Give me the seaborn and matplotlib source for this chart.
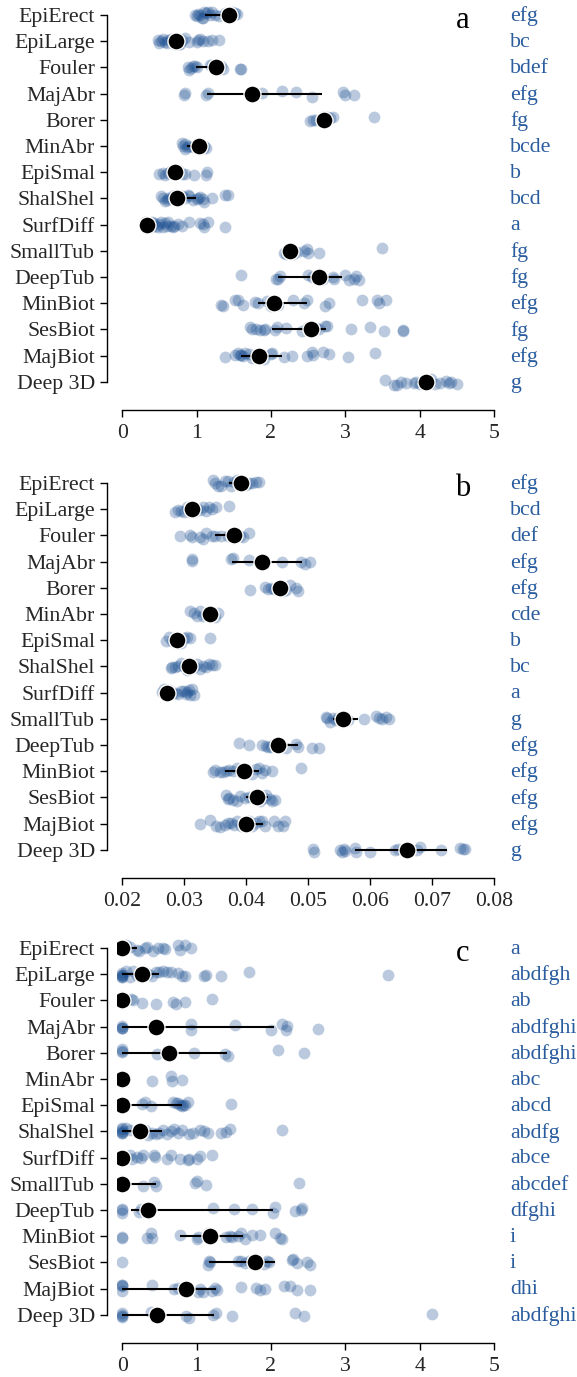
import numpy as np
import pandas as pd
import matplotlib
matplotlib.use("Agg")
import matplotlib.pyplot as plt
import matplotlib.transforms as mtransforms
import seaborn as sns

cats = ['EpiErect', 'EpiLarge', 'Fouler', 'MajAbr', 'Borer', 'MinAbr', 'EpiSmal',
        'ShalShel', 'SurfDiff', 'SmallTub', 'DeepTub', 'MinBiot', 'SesBiot',
        'MajBiot', 'Deep 3D']

# ---- panel a ----
a_pts = [
    [0.98, 1.0, 1.02, 1.05, 1.07, 1.08, 1.1, 1.12, 1.15, 1.18, 1.2, 1.25, 1.3, 1.38, 1.42, 1.45, 1.47, 1.5, 1.52, 1.54],
    [0.48, 0.5, 0.52, 0.55, 0.58, 0.6, 0.62, 0.65, 0.68, 0.7, 0.72, 0.74, 0.76, 0.78, 0.8, 0.85, 0.9, 1.0, 1.02, 1.05, 1.08, 1.15, 1.2, 1.3],
    [0.88, 0.9, 0.93, 0.95, 0.98, 1.0, 1.18, 1.2, 1.25, 1.28, 1.3, 1.33, 1.35, 1.58, 1.6],
    [0.83, 0.84, 1.13, 1.15, 1.7, 1.75, 1.88, 2.15, 2.33, 2.55, 2.97, 3.0, 3.12],
    [2.53, 2.56, 2.6, 2.7, 2.75, 2.8, 2.84, 3.38],
    [0.8, 0.82, 0.84, 0.85, 0.87, 0.9, 0.95, 1.0, 1.02, 1.05, 1.08, 1.1, 1.12],
    [0.5, 0.55, 0.58, 0.62, 0.65, 0.68, 0.72, 0.75, 0.8, 0.85, 0.97, 1.12, 1.14],
    [0.52, 0.55, 0.58, 0.6, 0.62, 0.65, 0.68, 0.7, 0.72, 0.75, 0.78, 0.8, 0.85, 0.88, 0.9, 0.95, 1.0, 1.02, 1.05, 1.08, 1.1, 1.2, 1.38, 1.42],
    [0.3, 0.32, 0.35, 0.38, 0.4, 0.42, 0.45, 0.48, 0.5, 0.52, 0.55, 0.58, 0.6, 0.62, 0.65, 0.68, 0.7, 0.75, 0.8, 0.9, 1.05, 1.08, 1.1, 1.15, 1.38],
    [2.18, 2.2, 2.22, 2.24, 2.26, 2.28, 2.3, 2.35, 2.45, 2.48, 2.5, 2.64, 3.5],
    [1.6, 2.07, 2.1, 2.12, 2.5, 2.55, 2.6, 2.65, 2.7, 2.83, 2.85, 3.0, 3.05, 3.12, 3.15, 3.18],
    [1.33, 1.36, 1.52, 1.55, 1.62, 1.78, 1.82, 1.95, 2.0, 2.05, 2.1, 2.3, 2.45, 2.48, 2.72, 2.78, 3.22, 3.42, 3.45, 3.55],
    [1.72, 1.75, 1.8, 1.85, 1.9, 1.92, 2.05, 2.08, 2.2, 2.42, 2.5, 2.55, 2.6, 2.65, 2.72, 2.75, 3.07, 3.33, 3.52, 3.77, 3.78],
    [1.38, 1.52, 1.55, 1.58, 1.6, 1.62, 1.65, 1.7, 1.75, 1.8, 1.85, 1.9, 2.0, 2.02, 2.18, 2.28, 2.48, 2.55, 2.57, 2.7, 2.78, 3.03, 3.4],
    [3.53, 3.65, 3.7, 3.75, 3.82, 3.92, 3.95, 4.0, 4.08, 4.12, 4.15, 4.2, 4.28, 4.36, 4.4, 4.42, 4.5],
]
a_med = [1.43, 0.72, 1.26, 1.75, 2.71, 1.03, 0.71, 0.73, 0.33, 2.26, 2.64, 2.04, 2.54, 1.84, 4.08]
a_lo = [1.11, 0.66, 0.99, 1.14, 2.66, 0.87, 0.68, 0.70, 0.33, 2.22, 2.10, 1.83, 2.02, 1.60, 3.97]
a_hi = [1.47, 0.80, 1.30, 2.68, 2.76, 1.06, 0.74, 0.99, 0.40, 2.30, 2.95, 2.48, 2.74, 2.15, 4.12]
a_let = ['efg', 'bc', 'bdef', 'efg', 'fg', 'bcde', 'b', 'bcd', 'a', 'fg', 'fg', 'efg', 'fg', 'efg', 'g']

# ---- panel b ----
b_pts = [
    [0.0347, 0.035, 0.0355, 0.036, 0.0365, 0.037, 0.0375, 0.038, 0.0385, 0.039, 0.0395, 0.04, 0.0405, 0.041, 0.0415, 0.042],
    [0.0285, 0.029, 0.0295, 0.03, 0.0305, 0.031, 0.0315, 0.032, 0.0325, 0.033, 0.0335, 0.034, 0.0345, 0.0352, 0.0372],
    [0.0293, 0.031, 0.0312, 0.0325, 0.033, 0.0335, 0.0345, 0.035, 0.036, 0.037, 0.0375, 0.038, 0.0385, 0.039, 0.0395, 0.0405],
    [0.0312, 0.0313, 0.0375, 0.0378, 0.0405, 0.0425, 0.0457, 0.0488, 0.0495, 0.0503],
    [0.0406, 0.043, 0.0435, 0.044, 0.0445, 0.0452, 0.046, 0.0465, 0.047, 0.048, 0.0483],
    [0.031, 0.0315, 0.032, 0.0325, 0.033, 0.0335, 0.034, 0.0345, 0.035, 0.0355],
    [0.027, 0.0275, 0.028, 0.0285, 0.029, 0.0295, 0.03, 0.0305, 0.031, 0.0341],
    [0.0278, 0.028, 0.0285, 0.029, 0.0295, 0.03, 0.0305, 0.031, 0.0315, 0.032, 0.0325, 0.033, 0.0335, 0.034, 0.0345, 0.035],
    [0.0264, 0.0268, 0.027, 0.0275, 0.028, 0.0285, 0.029, 0.0295, 0.03, 0.0302, 0.0305, 0.0308, 0.031, 0.0312, 0.0315],
    [0.0528, 0.053, 0.0535, 0.054, 0.0545, 0.0548, 0.0556, 0.0565, 0.059, 0.061, 0.0615, 0.062, 0.0625, 0.063],
    [0.0389, 0.0405, 0.0425, 0.0432, 0.0435, 0.044, 0.0445, 0.0455, 0.0465, 0.048, 0.0483, 0.0507, 0.0518],
    [0.0346, 0.035, 0.0358, 0.0362, 0.0368, 0.0372, 0.0378, 0.0385, 0.039, 0.0395, 0.04, 0.041, 0.0415, 0.042, 0.0425, 0.043, 0.0441, 0.0488],
    [0.0368, 0.037, 0.0373, 0.0378, 0.0385, 0.039, 0.0398, 0.0405, 0.041, 0.0418, 0.0422, 0.0428, 0.0432, 0.0438, 0.0442, 0.0447],
    [0.0326, 0.0341, 0.0352, 0.0358, 0.0365, 0.037, 0.0375, 0.038, 0.0385, 0.0392, 0.04, 0.0405, 0.041, 0.0415, 0.042, 0.0425, 0.043, 0.0445, 0.0452, 0.046, 0.0463],
    [0.0508, 0.051, 0.0552, 0.0555, 0.0558, 0.056, 0.0575, 0.0578, 0.06, 0.064, 0.0645, 0.066, 0.0675, 0.068, 0.0715, 0.0745, 0.075, 0.0753],
]
b_med = [0.0391, 0.0313, 0.0380, 0.0425, 0.0454, 0.0341, 0.0289, 0.0307, 0.0272, 0.0556, 0.0451, 0.0397, 0.0418, 0.0400, 0.0659]
b_lo = [0.0373, 0.0305, 0.0349, 0.0377, 0.0446, 0.0333, 0.0285, 0.0305, 0.0270, 0.0540, 0.0439, 0.0365, 0.0400, 0.0395, 0.0575]
b_hi = [0.0395, 0.0320, 0.0385, 0.0490, 0.0458, 0.0345, 0.0292, 0.0315, 0.0276, 0.0581, 0.0483, 0.0421, 0.0435, 0.0427, 0.0724]
b_let = ['efg', 'bcd', 'def', 'efg', 'efg', 'cde', 'b', 'bc', 'a', 'g', 'efg', 'efg', 'efg', 'efg', 'g']

# ---- panel c ----
c_pts = [
    [0, 0, 0, 0.02, 0.05, 0.1, 0.2, 0.22, 0.3, 0.33, 0.41, 0.48, 0.55, 0.57, 0.75, 0.78, 0.85, 0.92],
    [0, 0, 0, 0, 0, 0, 0.05, 0.1, 0.15, 0.2, 0.25, 0.3, 0.35, 0.4, 0.45, 0.5, 0.55, 0.6, 0.65, 0.75, 0.8, 0.85, 1.1, 1.12, 1.33, 1.7, 3.58],
    [0, 0, 0, 0, 0.05, 0.12, 0.15, 0.27, 0.46, 0.68, 0.72, 0.85, 1.2],
    [0, 0, 0, 0, 0.46, 0.92, 0.93, 1.52, 2.0, 2.15, 2.2, 2.22, 2.63],
    [0, 0, 0, 0.47, 0.63, 0.96, 1.38, 1.42, 2.1, 2.45],
    [0, 0, 0, 0, 0, 0, 0, 0, 0.4, 0.65, 0.67, 0.8],
    [0, 0, 0, 0, 0.27, 0.3, 0.38, 0.68, 0.72, 0.75, 0.78, 0.8, 0.82, 0.85, 0.88, 1.46],
    [0, 0, 0, 0, 0, 0, 0.05, 0.1, 0.2, 0.25, 0.3, 0.35, 0.4, 0.45, 0.5, 0.55, 0.6, 0.65, 0.7, 0.75, 0.8, 0.9, 0.95, 1.05, 1.1, 1.15, 1.33, 1.4, 1.45, 2.15],
    [0, 0, 0, 0, 0.05, 0.1, 0.13, 0.2, 0.25, 0.28, 0.42, 0.44, 0.6, 0.65, 0.78, 0.88, 0.9, 1.0, 1.05, 1.2],
    [0, 0, 0, 0.28, 0.42, 0.45, 0.98, 1.0, 1.13, 2.38],
    [0, 0, 0, 0.22, 0.25, 0.34, 1.22, 1.5, 1.75, 2.03, 2.05, 2.32, 2.4, 2.42],
    [0, 0, 0.33, 0.38, 0.4, 0.78, 1.0, 1.02, 1.15, 1.18, 1.4, 1.45, 1.48, 1.55, 1.6, 1.65, 1.75, 1.85, 2.05, 2.12, 2.15],
    [0, 1.15, 1.16, 1.18, 1.55, 1.6, 1.65, 1.7, 1.79, 1.9, 1.95, 1.98, 2.28, 2.3, 2.35, 2.48, 2.52],
    [0, 0, 0, 0, 0.4, 0.7, 0.75, 0.86, 1.02, 1.05, 1.08, 1.2, 1.25, 1.27, 1.6, 1.8, 1.85, 1.92, 2.18, 2.25, 2.35, 2.53],
    [0, 0, 0, 0, 0.38, 0.47, 0.86, 0.9, 1.22, 1.26, 1.48, 2.32, 2.45, 4.17],
]
c_med = [0.0, 0.26, 0.0, 0.46, 0.63, 0.0, 0.0, 0.24, 0.0, 0.0, 0.34, 1.18, 1.79, 0.86, 0.47]
c_lo = [0.0, 0.0, 0.0, 0.0, 0.0, 0.0, 0.0, 0.0, 0.0, 0.0, 0.12, 0.77, 1.16, 0.0, 0.0]
c_hi = [0.2, 0.5, 0.1, 2.04, 1.41, 0.0, 0.8, 0.54, 0.05, 0.45, 2.03, 1.63, 2.05, 1.26, 1.24]
c_let = ['a', 'abdfgh', 'ab', 'abdfghi', 'abdfghi', 'abc', 'abcd', 'abdfg', 'abce',
         'abcdef', 'dfghi', 'i', 'i', 'dhi', 'abdfghi']

ticks_ac = [0, 1, 2, 3, 4, 5]
ticks_b = [0.02, 0.03, 0.04, 0.05, 0.06, 0.07, 0.08]

sns.set_style('ticks')
plt.rcParams['font.family'] = ['Liberation Serif', 'DejaVu Serif']
plt.rcParams['font.size'] = 15.7

blue = '#1b4f91'
txt_blue = '#2a5d9f'

W, H = 577, 1377
fig = plt.figure(figsize=(W / 100, H / 100), dpi=100)

panels = [
    ('a', a_pts, a_med, a_lo, a_hi, a_let, ticks_ac, (-0.078, 5.0), 15),
    ('b', b_pts, b_med, b_lo, b_hi, b_let, ticks_b, (0.01906, 0.08), 483),
    ('c', c_pts, c_med, c_lo, c_hi, c_let, ticks_ac, (-0.078, 5.0), 948),
]

row = 26.2
np.random.seed(3)
for name, pts, med, lo, hi, let, ticks, xlim, top_row in panels:
    left_px, right_px = 116.5, 494
    top_px = top_row - 0.5 * row
    bot_px = top_row + 14.6 * row
    ax = fig.add_axes([left_px / W, 1 - bot_px / H,
                       (right_px - left_px) / W, (bot_px - top_px) / H])

    df = pd.DataFrame({
        'cat': [c for c, p in zip(cats, pts) for _ in p],
        'val': [v for p in pts for v in p],
    })
    sns.stripplot(data=df, x='val', y='cat', order=cats, orient='h',
                  color=blue, alpha=0.3, size=8.5, jitter=0.13,
                  linewidth=0, ax=ax, zorder=2)

    ypos = np.arange(len(cats))
    ax.hlines(ypos, lo, hi, color='black', lw=1.5, zorder=3)
    ax.scatter(med, ypos, s=150, color='black', edgecolor='white',
               linewidth=1.0, zorder=4)

    trans = mtransforms.blended_transform_factory(ax.transAxes, ax.transData)
    for i, t in enumerate(let):
        ax.text(1.042, i + 0.05, t, transform=trans, color=txt_blue,
                ha='left', va='center', fontsize=15.7)
    ax.text(0.918, 0.2, name, transform=trans, ha='center', va='center',
            fontsize=22, color='black')

    ax.set_xlim(*xlim)
    ax.set_ylim(14.6, -0.5)
    ax.set_xticks(ticks)
    if name == 'b':
        ax.set_xticklabels(['%.2f' % t for t in ticks])
    ax.set_xlabel('')
    ax.set_ylabel('')
    ax.tick_params(labelsize=15.7, length=5, width=1, color='black')
    ax.tick_params(axis='x', pad=5)
    sns.despine(ax=ax, offset={'left': 7, 'bottom': 9}, trim=True)
    for sp in ['left', 'bottom']:
        ax.spines[sp].set_color('black')
        ax.spines[sp].set_linewidth(1)

fig.savefig('out.png', dpi=100)
